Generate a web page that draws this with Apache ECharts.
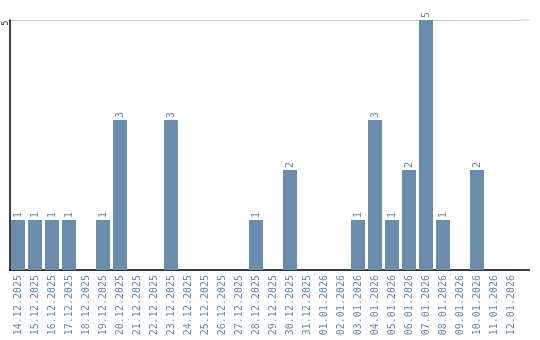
<!DOCTYPE html>
<html><head><meta charset="utf-8">
<script src="https://cdn.jsdelivr.net/npm/echarts@6/dist/echarts.min.js"></script>
<style>html,body{margin:0;padding:0;background:#fff}#c{width:540px;height:340px}</style>
</head><body><div id="c"></div>
<script>
const categories = ['14.12.2025','15.12.2025','16.12.2025','17.12.2025','18.12.2025','19.12.2025','20.12.2025','21.12.2025','22.12.2025','23.12.2025','24.12.2025','25.12.2025','26.12.2025','27.12.2025','28.12.2025','29.12.2025','30.12.2025','31.12.2025','01.01.2026','02.01.2026','03.01.2026','04.01.2026','05.01.2026','06.01.2026','07.01.2026','08.01.2026','09.01.2026','10.01.2026','11.01.2026','12.01.2026'];
const values = [1,1,1,1,0,1,3,0,0,3,0,0,0,0,1,0,2,0,0,0,1,3,1,2,5,1,0,2,0,0];
const yTicks = [5];

const chart = echarts.init(document.getElementById('c'), null, {renderer:'canvas'});
const font = 'DejaVu Sans Mono';
const textColor = '#6a89ab';
chart.setOption({
  animation:false,
  grid:{left:9.5, width:510, top:20, bottom:70, containLabel:false},
  xAxis:{type:'category', data:categories, boundaryGap:true,
    axisLine:{lineStyle:{color:'#000', width:1.5}}, axisTick:{show:false},
    axisLabel:{rotate:90, interval:0, margin:5, color:textColor, fontFamily:font, fontSize:10}},
  yAxis:{type:'value', min:0, max:5, interval:5,
    axisLine:{show:true, lineStyle:{color:'#000', width:1.5}}, axisTick:{show:false},
    splitLine:{lineStyle:{color:'#cccccc', width:1}},
    axisLabel:{rotate:90, margin:4, align:'center', verticalAlign:'middle', padding:[0,6,0,0], color:'#222', fontFamily:font, fontSize:8,
      formatter:v=> yTicks.includes(v)? String(v) : ''}},
  series:[{type:'bar', data:values, barWidth:14, itemStyle:{color:'#6b8cab'},
    label:{show:true, position:'top', rotate:90, align:'left', verticalAlign:'middle', distance:2,
      color:textColor, fontFamily:font, fontSize:10, formatter:p=> p.value? String(p.value):''}}]
});
const yTop = chart.convertToPixel({yAxisIndex:0}, 5);
const yBot = chart.convertToPixel({yAxisIndex:0}, 0);
chart.setOption({graphic:[
  {type:'line', shape:{x1:519.5, y1:yTop, x2:530, y2:yTop}, style:{stroke:'#cccccc', lineWidth:1}},
  {type:'line', shape:{x1:519.5, y1:yBot, x2:530, y2:yBot}, style:{stroke:'#000', lineWidth:1.5}}
]});
</script></body></html>
